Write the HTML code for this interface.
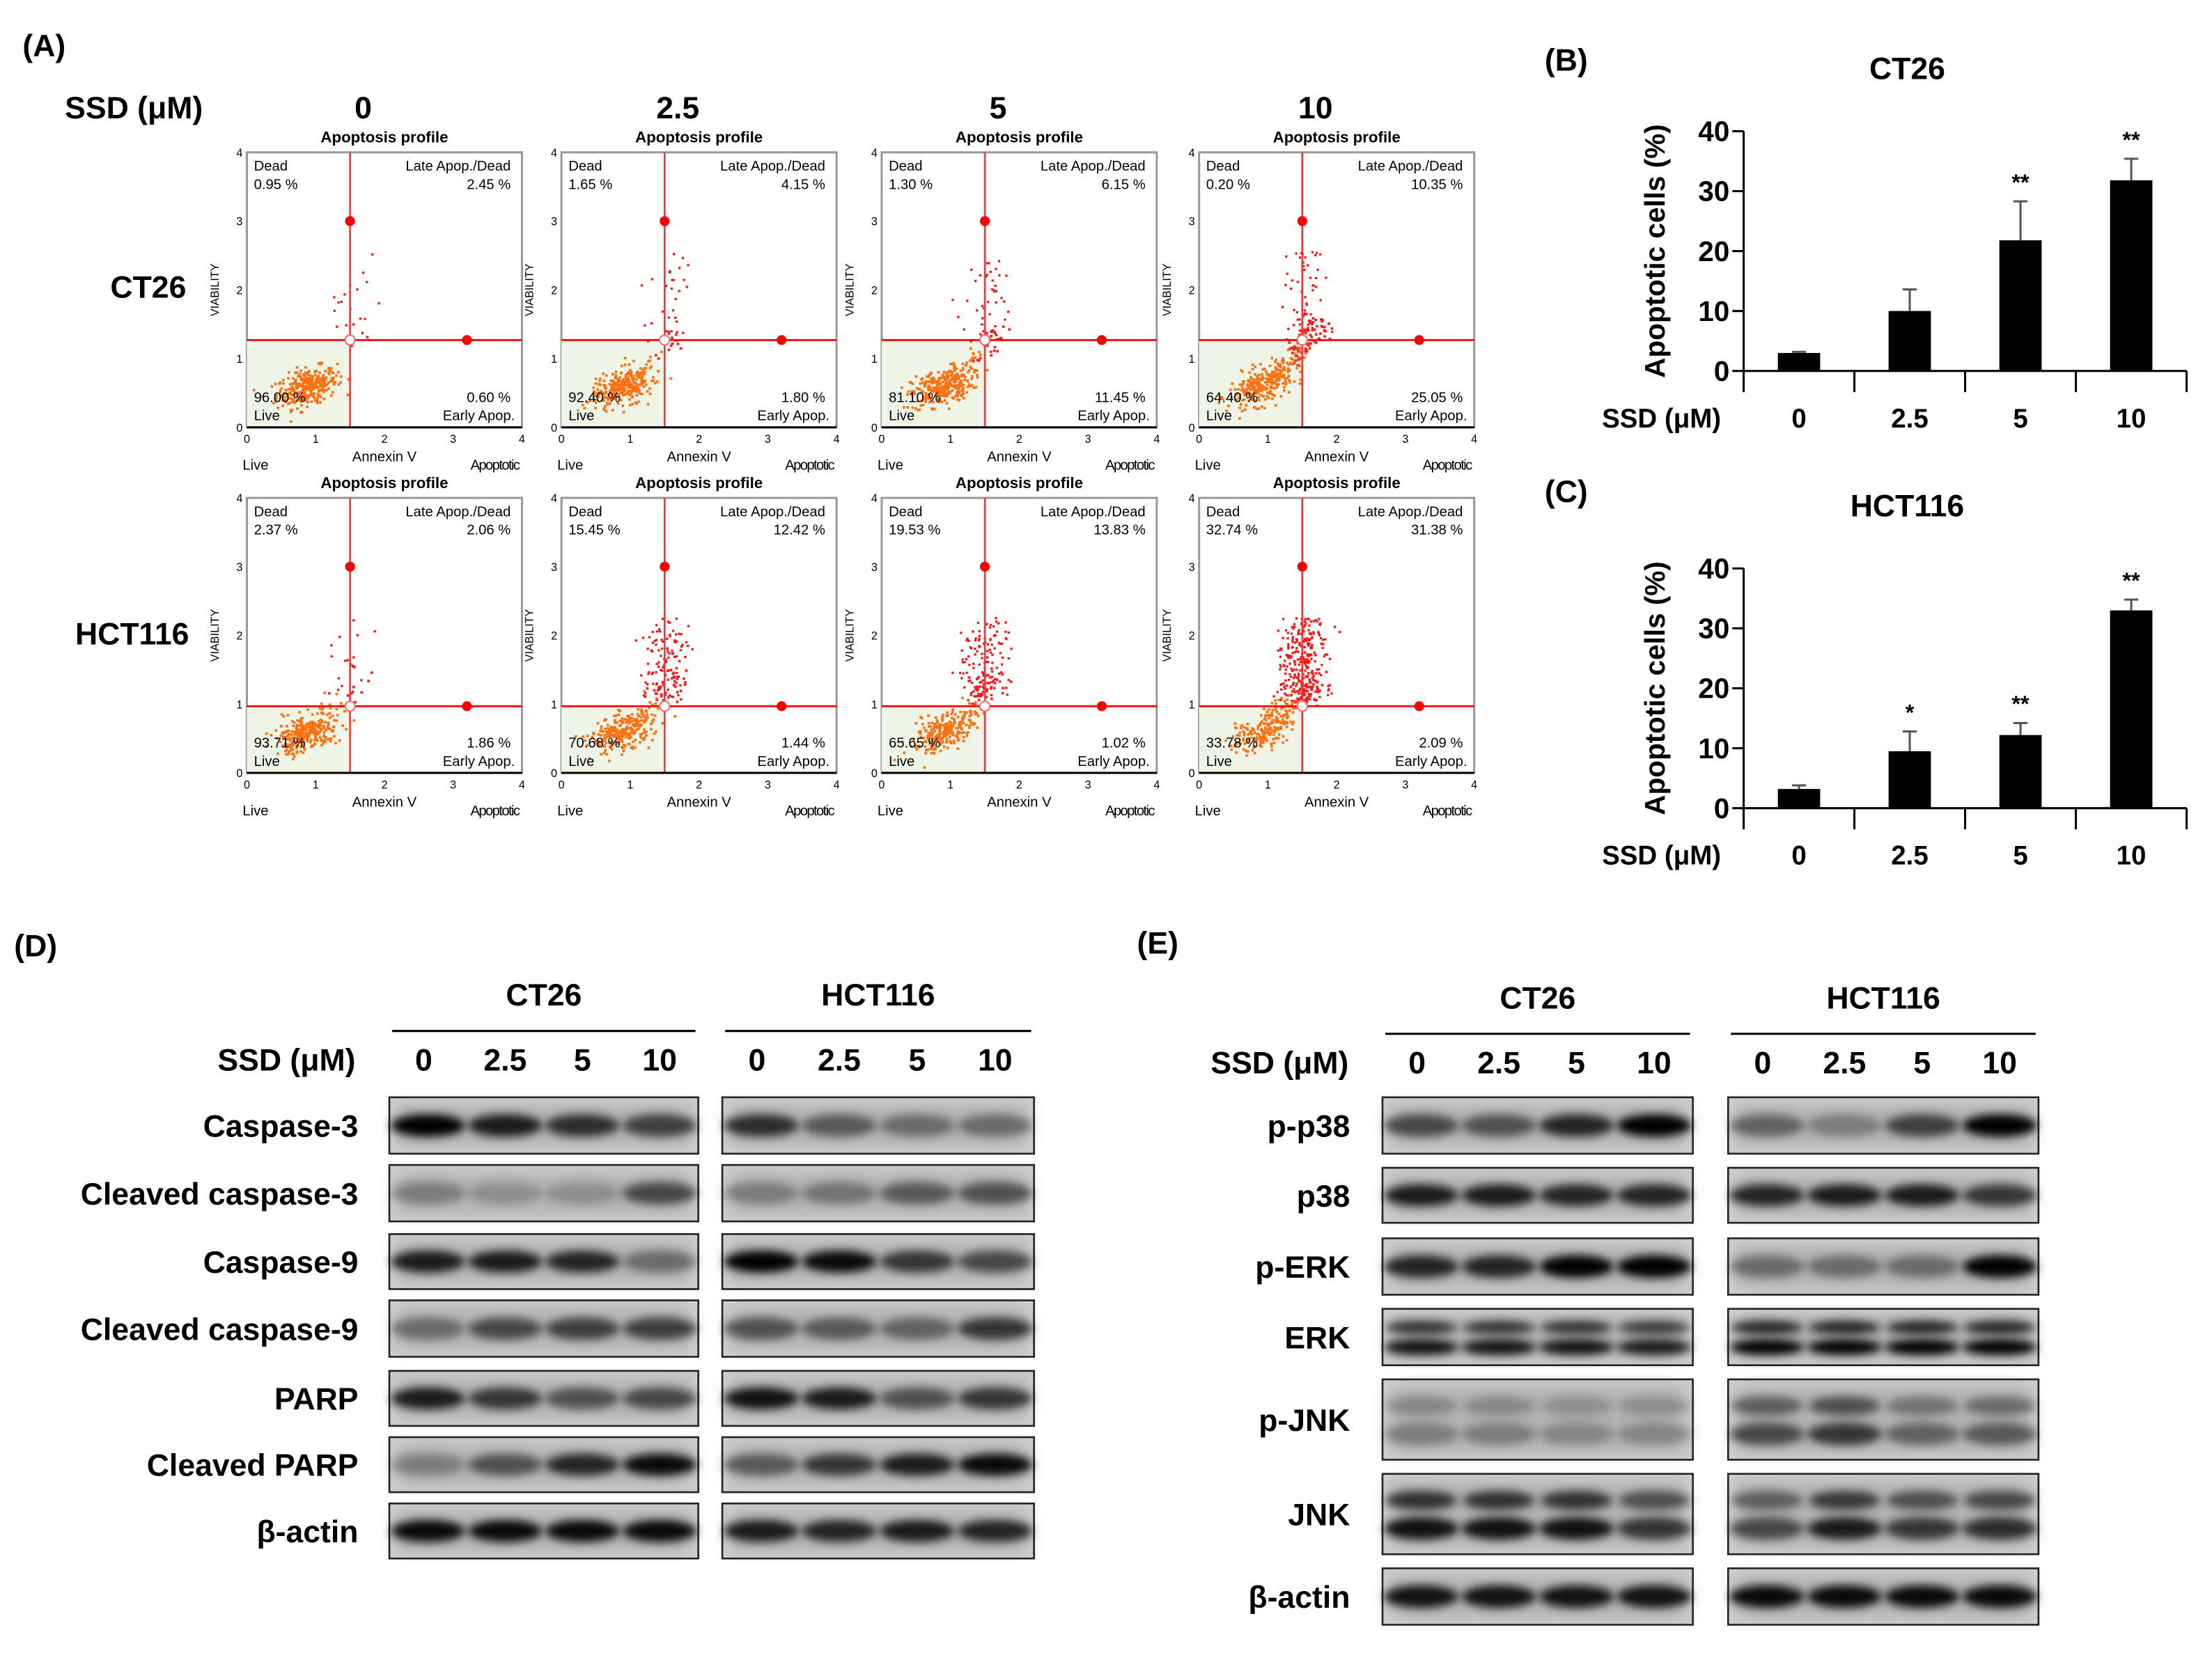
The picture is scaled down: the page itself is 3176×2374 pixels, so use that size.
<!DOCTYPE html>
<html><head><meta charset="utf-8"><style>
html,body{margin:0;padding:0;background:#fff}
svg{display:block}
text{font-family:"Liberation Sans",sans-serif}
</style></head><body>
<svg id="fig" xmlns="http://www.w3.org/2000/svg" width="3176" height="2374" viewBox="0 0 1568 1172">
<defs>
<filter id="blur" x="-50%" y="-100%" width="200%" height="300%"><feGaussianBlur stdDeviation="3.2"/></filter>
<filter id="blur2" x="-20%" y="-20%" width="140%" height="140%"><feGaussianBlur stdDeviation="6"/></filter>
</defs>
<g id="root"></g>
</svg>
<script>
// ---------- data ----------
const doses = ["0","2.5","5","10"];
const ct26Dead = [0.95,1.65,1.30,0.20];
const ct26Late = [2.45,4.15,6.15,10.35];
const ct26Live = [96.00,92.40,81.10,64.40];
const ct26Early = [0.60,1.80,11.45,25.05];
const hctDead = [2.37,15.45,19.53,32.74];
const hctLate = [2.06,12.42,13.83,31.38];
const hctLive = [93.71,70.68,65.65,33.78];
const hctEarly = [1.86,1.44,1.02,2.09];
const quadrantY = [1.27,0.97];
const barCategories = ["0","2.5","5","10"];
const ct26Apoptotic = [3.0,10.0,21.8,31.8];
const ct26Err = [0.2,3.6,6.5,3.6];
const ct26Stars = ["","","**","**"];
const hctApoptotic = [3.2,9.5,12.2,33.0];
const hctErr = [0.6,3.3,2.0,1.8];
const hctStars = ["","*","**","**"];
const yTicks = [0,10,20,30,40];
const dLabels = ["Caspase-3","Cleaved caspase-3","Caspase-9","Cleaved caspase-9","PARP","Cleaved PARP","β-actin"];
const dCT26 = [[1,.85,.75,.65],[.3,.2,.2,.6],[.85,.85,.8,.4],[.4,.6,.65,.65],[.85,.7,.55,.6],[.3,.55,.8,.95],[.95,.95,.95,.95]];
const dHCT = [[.75,.5,.4,.4],[.3,.35,.5,.55],[1,.95,.7,.6],[.55,.5,.45,.7],[.9,.85,.55,.7],[.5,.7,.85,.95],[.85,.8,.85,.8]];
const eLabels = ["p-p38","p38","p-ERK","ERK","p-JNK","JNK","β-actin"];
const eCT26 = [[.6,.55,.8,1],[.85,.85,.8,.8],[.8,.8,1,1],[.9,.9,.9,.85],[.3,.3,.25,.25],[.9,.9,.9,.7],[.9,.9,.9,.9]];
const eHCT = [[.45,.3,.65,1],[.8,.85,.85,.7],[.4,.4,.4,1],[1,1,1,1],[.6,.7,.45,.5],[.6,.85,.7,.75],[.95,.95,.95,.95]];

const NS="http://www.w3.org/2000/svg";
const root=document.getElementById('root');
function mk(tag,attrs,parent){const e=document.createElementNS(NS,tag);for(const k in attrs)e.setAttribute(k,attrs[k]);(parent||root).appendChild(e);return e;}
function txt(x,y,s,size,opts,parent){opts=opts||{};const e=mk('text',Object.assign({x:x,y:y,'font-size':size,'font-weight':opts.w||'bold','text-anchor':opts.a||'start',fill:opts.f||'#000'},opts.extra||{}),parent);e.textContent=s;return e;}

let seed=12345;function rnd(){seed=(seed*1103515245+12345)%2147483648;return seed/2147483648;}
function gauss(){let u=rnd()||1e-6,v=rnd();return Math.sqrt(-2*Math.log(u))*Math.cos(2*Math.PI*v);}

let t;
t=txt(16,40,"(A)",22);
t=txt(1095,50,"(B)",22);
t=txt(1095,356,"(C)",22);
t=txt(10,678,"(D)",22);
t=txt(806,676,"(E)",22);

t=txt(46,84,"SSD (μM)",22);
const colX=[175,398,625,850];const rowY=[108,353];const PW=195,PH=195;
doses.forEach((d,i)=>{t=txt(colX[i]+PW/2-15,84,d,22,{a:'middle'});});
t=txt(132,211,"CT26",22,{a:'end'});
t=txt(134,457,"HCT116",22,{a:'end'});
const rows=[[ct26Dead,ct26Late,ct26Live,ct26Early],[hctDead,hctLate,hctLive,hctEarly]];
rows.forEach((r,ri)=>{doses.forEach((d,ci)=>{
  const x0=colX[ci],y0=rowY[ri];
  const g=mk('g',{});
  const X=v=>x0+v/4*PW, Y=v=>y0+PH-v/4*PH;
  const qx=1.5,qy=quadrantY[ri];
  txt(x0+PW/2,y0-7,"Apoptosis profile",11,{a:'middle'},g);
  mk('rect',{x:x0,y:y0,width:PW,height:PH,fill:'#fff',stroke:'#999','stroke-width':1.5},g);
  mk('rect',{x:X(0),y:Y(qy),width:X(qx)-X(0),height:Y(0)-Y(qy),fill:'#eef5e6'},g);
  const live=r[2][ci],early=r[3][ci],late=r[1][ci],dead=r[0][ci];
  const nLive=Math.round(live*3.2);
  for(let k=0;k<nLive;k++){const px=0.85+gauss()*0.22,py=0.6+gauss()*0.13+(px-0.85)*0.25;if(px<0.02||py<0.02)continue;mk('rect',{x:X(px),y:Y(py),width:1.8,height:1.8,fill:'#ff7010'},g);}
  const nTail=Math.round((early+late)*5);
  for(let k=0;k<nTail;k++){const tt=rnd();const px=0.9+tt*0.8+gauss()*0.1,py=0.55+tt*0.9+gauss()*0.1;mk('rect',{x:X(px),y:Y(py),width:1.8,height:1.8,fill:tt>0.6?'#ff2020':'#ff7010'},g);}
  const nLate=Math.round(late*6);
  for(let k=0;k<nLate;k++){const px=1.55+gauss()*0.16,py=qy+0.1+rnd()*1.2;mk('rect',{x:X(px),y:Y(py),width:1.6,height:1.6,fill:'#ff1010'},g);}
  const nDead=Math.round(dead*2);
  for(let k=0;k<nDead;k++){const px=1.3+gauss()*0.12,py=qy+0.15+rnd()*1.0;mk('rect',{x:X(px),y:Y(py),width:1.6,height:1.6,fill:'#ff1010'},g);}
  mk('line',{x1:X(qx),y1:y0,x2:X(qx),y2:y0+PH,stroke:'#f33','stroke-width':1.3},g);
  mk('line',{x1:x0,y1:Y(qy),x2:x0+PW,y2:Y(qy),stroke:'#f00','stroke-width':1.3},g);
  mk('circle',{cx:X(qx),cy:Y(3.0),r:3.5,fill:'#f00'},g);
  mk('circle',{cx:X(3.2),cy:Y(qy),r:3.5,fill:'#f00'},g);
  mk('circle',{cx:X(qx),cy:Y(qy),r:3.5,fill:'#fff',stroke:'#f66','stroke-width':1},g);
  mk('line',{x1:x0,y1:y0+PH,x2:x0+PW,y2:y0+PH,stroke:'#000','stroke-width':1.5},g);
  txt(x0+5,y0+13,"Dead",10,{w:'normal'},g);txt(x0+5,y0+26,dead.toFixed(2)+" %",10,{w:'normal'},g);
  txt(x0+PW-8,y0+13,"Late Apop./Dead",10,{w:'normal',a:'end'},g);txt(x0+PW-8,y0+26,late.toFixed(2)+" %",10,{w:'normal',a:'end'},g);
  txt(x0+5,y0+PH-18,live.toFixed(2)+" %",10,{w:'normal'},g);txt(x0+5,y0+PH-5,"Live",10,{w:'normal'},g);
  txt(x0+PW-8,y0+PH-18,early.toFixed(2)+" %",10,{w:'normal',a:'end'},g);txt(x0+PW-5,y0+PH-5,"Early Apop.",10,{w:'normal',a:'end'},g);
  for(let v=0;v<=4;v++){txt(X(v),y0+PH+11,String(v),8,{w:'normal',a:'middle'},g);txt(x0-3,Y(v)+3,String(v),8,{w:'normal',a:'end'},g);}
  txt(x0+PW/2,y0+PH+24,"Annexin V",10,{a:'middle',w:'normal'},g);
  txt(x0-3,y0+PH+30,"Live",10,{w:'normal'},g);
  txt(x0+PW-2,y0+PH+30,"Apoptotic",10,{w:'normal',a:'end',extra:{'letter-spacing':'-0.8'}},g);
  txt(0,0,"VIABILITY",8,{w:'normal',a:'middle',extra:{transform:`translate(${x0-20},${y0+PH/2}) rotate(-90)`}},g);
})});

function barChart(name,title,titleY,y40,y0,vals,errs,stars){
  const g=mk('g',{});
  const xL=1236,xR=1550;const n=barCategories.length;const bw=(xR-xL)/n;
  const Y=v=>y0-(v/40)*(y0-y40);const Xc=i=>xL+bw*(i+0.5);
  txt(1352,titleY,title,22,{a:'middle'},g);
  mk('line',{x1:xL,y1:Y(40),x2:xL,y2:y0,stroke:'#000','stroke-width':1.5},g);
  mk('line',{x1:xL,y1:y0,x2:xR,y2:y0,stroke:'#000','stroke-width':1.5},g);
  yTicks.forEach(v=>{mk('line',{x1:xL-8,y1:Y(v),x2:xL,y2:Y(v),stroke:'#000','stroke-width':1.5},g);
    const tk=txt(xL-10,Y(v)+7,String(v),20,{a:'end'},g);});
  for(let i=0;i<=n;i++)mk('line',{x1:xL+bw*i,y1:y0,x2:xL+bw*i,y2:y0+15,stroke:'#000','stroke-width':1.5},g);
  const yt=txt(0,0,"Apoptotic cells (%)",20,{a:'middle',extra:{transform:`translate(1180,${(y0+Y(40))/2}) rotate(-90)`}},g);
  
  const xt=txt(1220,y0+40,"SSD (μM)",19,{a:'end'},g);
  vals.forEach((v,i)=>{
    const b=mk('rect',{x:Xc(i)-15,y:Y(v),width:30,height:y0-Y(v),fill:'#000'},g);
    
    mk('line',{x1:Xc(i),y1:Y(v),x2:Xc(i),y2:Y(v+errs[i]),stroke:'#555','stroke-width':1.5},g);
    mk('line',{x1:Xc(i)-5,y1:Y(v+errs[i]),x2:Xc(i)+5,y2:Y(v+errs[i]),stroke:'#555','stroke-width':1.5},g);
    if(stars[i])txt(Xc(i),Y(v+errs[i])-8,stars[i],16,{a:'middle'},g);
    txt(Xc(i),y0+40,barCategories[i],19,{a:'middle'},g);
  });
}
barChart('bar-chart-ct26','CT26',56,93,263,ct26Apoptotic,ct26Err,ct26Stars);
barChart('bar-chart-hct116','HCT116',366,403,573,hctApoptotic,hctErr,hctStars);

function blots(name,labelX,boxes,rowsY,labels,data,dbl,headY,headerX){
  const g=mk('g',{});
  txt(headerX,headY+46,"SSD (μM)",22,{a:'end'},g);
  boxes.forEach((b,bi)=>{
    txt(b.x+b.w/2,headY,b.name,22,{a:'middle'},g);
    mk('line',{x1:b.x+2,y1:headY+18,x2:b.x+b.w-2,y2:headY+18,stroke:'#000','stroke-width':1.5},g);
    for(let l=0;l<4;l++)txt(b.x+b.w*(l+0.5)/4+(l==0?-3:0),headY+46,doses[l],22,{a:'middle',w:'bold'},g);
    rowsY.forEach((ry,ri)=>{
      const h=ry[1]-ry[0];
      const bx=mk('g',{},g);
      mk('rect',{x:b.x,y:ry[0],width:b.w,height:h,fill:'#d2d2d2',stroke:'#222','stroke-width':1.3},bx);
      mk('rect',{x:b.x+4,y:ry[0]+4,width:b.w-8,height:h-8,fill:'#555',opacity:0.25,filter:'url(#blur2)'},bx);
      data[bi][ri].forEach((v,l)=>{
        const cx=b.x+b.w*(l+0.5)/4;
        if(dbl[ri]){
          mk('ellipse',{cx:cx,cy:ry[0]+h*0.33,rx:b.w/8-2,ry:h*0.12,fill:'#000',opacity:v*0.8,filter:'url(#blur)'},bx);
          mk('ellipse',{cx:cx,cy:ry[0]+h*0.68,rx:b.w/8-1,ry:h*0.14,fill:'#000',opacity:v,filter:'url(#blur)'},bx);
        } else mk('ellipse',{cx:cx,cy:ry[0]+h/2,rx:b.w/8-1,ry:h*0.2,fill:'#000',opacity:v,filter:'url(#blur)'},bx);
      });
    });
  });
  rowsY.forEach((ry,ri)=>{const lt=txt(labelX,(ry[0]+ry[1])/2+8,labels[ri],22,{a:'end'},g);});
}
blots('blot-d',254,[{name:'CT26',x:276,w:219},{name:'HCT116',x:512,w:221}],
  [[778,818],[826,866],[875,914],[922,962],[972,1011],[1019,1058],[1066,1105]],dLabels,[dCT26,dHCT],[0,0,0,0,0,0,0],713,252);
blots('blot-e',957,[{name:'CT26',x:980,w:220},{name:'HCT116',x:1225,w:220}],
  [[778,818],[828,867],[878,918],[928,968],[978,1035],[1045,1102],[1112,1152]],eLabels,[eCT26,eHCT],[0,0,0,1,1,1,0],715,956);
</script>
</body></html>
